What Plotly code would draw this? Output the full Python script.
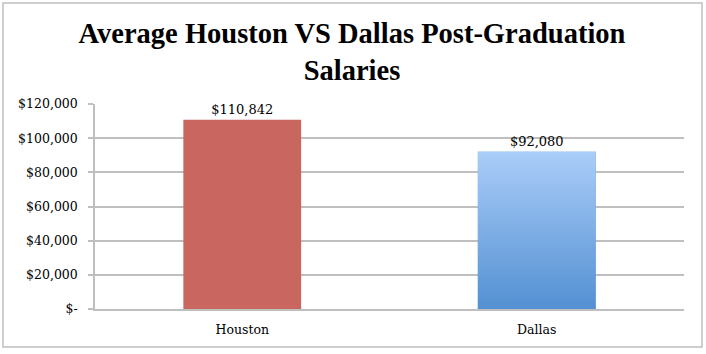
import plotly.graph_objects as go

cities = ["Houston", "Dallas"]
salaries = [110842, 92080]
tick_values = [0, 20000, 40000, 60000, 80000, 100000, 120000]
tick_labels = ["$-", "$20,000", "$40,000", "$60,000", "$80,000", "$100,000", "$120,000"]
title_text = "Average Houston VS Dallas Post-Graduation<br>Salaries"

W, H = 706, 354
ml, mr, mt, mb = 95, 22, 104, 45
bar_w = 0.4
houston_color = "#C8665F"
dallas_top = "#AACDF9"
dallas_bottom = "#5390D2"
grid_color = "#BFBFBF"
serif = "DejaVu Serif"

xs = list(range(len(cities)))
labels = ["${:,.0f}".format(v) for v in salaries]

fig = go.Figure()
fig.add_trace(go.Bar(
    x=xs, y=salaries, width=bar_w,
    marker=dict(color=[houston_color, dallas_bottom], line=dict(width=0)),
    text=labels, textposition="outside", cliponaxis=False,
    textfont=dict(family=serif, size=13, color="#000000"),
    hoverinfo="skip",
))

# gradient overlay for Dallas bar
i = 1
x0, x1 = xs[i] - bar_w / 2, xs[i] + bar_w / 2
fig.add_trace(go.Scatter(
    x=[x0, x1, x1, x0, x0], y=[0, 0, salaries[i], salaries[i], 0],
    mode="lines", line=dict(width=0), fill="toself",
    fillgradient=dict(type="vertical", colorscale=[[0, dallas_bottom], [1, dallas_top]]),
    hoverinfo="skip", showlegend=False,
))

pw = W - ml - mr
ph = H - mt - mb
fig.add_shape(type="rect", xref="paper", yref="paper",
              x0=(3 - ml) / pw, x1=(702 - ml) / pw,
              y0=(H - mb - 347) / ph, y1=(H - mb - 3) / ph,
              line=dict(color="#BFBFBF", width=1.5), layer="below")

fig.update_layout(
    width=W, height=H,
    margin=dict(l=ml, r=mr, t=mt, b=mb),
    paper_bgcolor="white", plot_bgcolor="white",
    showlegend=False,
    title=dict(text=title_text, x=352 / W, xanchor="center", xref="container",
               y=1 - 43 / H, yanchor="middle", yref="container",
               font=dict(family="Liberation Serif", size=28.5, color="#000000", weight="bold")),
    xaxis=dict(range=[-0.5, len(cities) - 0.5], tickvals=xs, ticktext=cities,
               showgrid=False, zeroline=False, showline=True, linecolor=grid_color, linewidth=1.5,
               ticks="", tickfont=dict(family=serif, size=12.5, color="#000000"),
               ticklabelstandoff=8),
    yaxis=dict(range=[0, 120000], tickvals=tick_values, ticktext=tick_labels,
               showgrid=True, gridcolor=grid_color, gridwidth=1.5, zeroline=False,
               showline=True, linecolor=grid_color, linewidth=1.5,
               ticks="outside", ticklen=5, tickcolor=grid_color, tickwidth=1.5,
               tickfont=dict(family=serif, size=12.5, color="#000000"),
               ticklabelstandoff=8),
)

fig.write_html("out.html")
